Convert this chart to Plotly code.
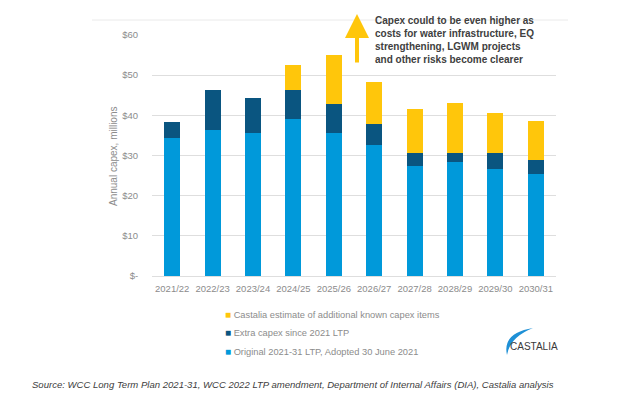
import plotly.graph_objects as go

years = ["2021/22", "2022/23", "2023/24", "2024/25", "2025/26",
         "2026/27", "2027/28", "2028/29", "2029/30", "2030/31"]
original = [34.3, 36.3, 35.5, 39.2, 35.7, 32.6, 27.3, 28.4, 26.6, 25.5]
extra = [4.0, 9.9, 8.7, 7.0, 7.2, 5.3, 3.2, 2.2, 4.0, 3.4]
castalia = [0, 0, 0, 6.3, 12.2, 10.4, 11.2, 12.5, 9.9, 9.8]

series_names = ["Original 2021-31 LTP, Adopted 30 June 2021",
                "Extra capex since 2021 LTP",
                "Castalia estimate of additional known capex items"]

y_ticks = [0, 10, 20, 30, 40, 50, 60]
y_ticktext = ["$-", "$10", "$20", "$30", "$40", "$50", "$60"]

C_LIGHT = "#0099DA"
C_DARK = "#0A5580"
C_YELLOW = "#FFC60B"
GREY = "#8C8C8C"
colors = [C_LIGHT, C_DARK, C_YELLOW]

W, H = 627, 401
L, R, T, B = 152, 71, 35, 125
PW, PH = W - L - R, H - T - B


def px(x):
    return (x - L) / PW


def py(y):
    return (H - B - y) / PH


fig = go.Figure()
for vals, name, col in zip([original, extra, castalia], series_names, colors):
    fig.add_bar(x=years, y=vals, name=name, marker_color=col,
                marker_line_width=0, hoverinfo="skip", showlegend=False)

fig.update_layout(
    width=W, height=H,
    margin=dict(l=L, r=R, t=T, b=B, pad=0),
    barmode="stack", bargap=0.6,
    plot_bgcolor="white", paper_bgcolor="white",
    font=dict(family="Liberation Sans, Arial, sans-serif", color=GREY, size=9),
    showlegend=False,
    xaxis=dict(
        showgrid=False, showline=False, ticks="outside", ticklen=4,
        tickcolor="white", tickfont=dict(size=9.5, color=GREY),
    ),
    yaxis=dict(
        range=[0, 60], tickvals=y_ticks, ticktext=y_ticktext,
        showgrid=True, gridcolor="#DEDEDE", gridwidth=1,
        zeroline=True, zerolinecolor="#DEDEDE", zerolinewidth=1,
        showline=False, ticks="outside", ticklen=11, tickcolor="white",
        tickfont=dict(size=9.5, color=GREY),
    ),
)

# legend (top to bottom: yellow, dark, light)
leg_y = [314, 332.7, 351.7]
for i, (name, col) in enumerate(zip(series_names[::-1], colors[::-1])):
    fig.add_annotation(
        xref="paper", yref="paper", x=px(223), y=py(leg_y[i]),
        xanchor="left", yanchor="middle", showarrow=False,
        text=f'<span style="color:{col}; font-size:10px">■</span> {name}',
        font=dict(size=9.3, color=GREY),
    )

# y axis title
fig.add_annotation(
    text="Annual capex, millions", xref="paper", yref="paper",
    x=px(113), y=py(156), xanchor="center", yanchor="middle",
    textangle=-90, showarrow=False,
    font=dict(size=10, color=GREY),
)

# faint top line
fig.add_shape(type="line", xref="paper", yref="paper",
              x0=px(92), x1=px(568), y0=py(20), y1=py(20),
              line=dict(color="#EAEAEA", width=1))

# arrow
fig.add_annotation(
    xref="paper", yref="paper", x=px(357), y=py(14),
    ax=0, ay=50, text="", showarrow=True,
    arrowhead=2, arrowsize=1.2, arrowwidth=4, arrowcolor=C_YELLOW,
)

# callout text
fig.add_annotation(
    xref="paper", yref="paper", x=px(373), y=py(13),
    xanchor="left", yanchor="top", align="left", showarrow=False,
    text=("<b>Capex could to be even higher as<br>costs for water infrastructure, EQ<br>"
          "strengthening, LGWM projects<br>and other risks become clearer</b>"),
    font=dict(size=10, color="#404040"),
)

# Castalia logo
fig.add_shape(
    type="path", xref="paper", yref="paper",
    path=(f"M {px(533)},{py(328)} "
          f"Q {px(502)},{py(333)} {px(507)},{py(355)} "
          f"Q {px(510)},{py(337)} {px(533)},{py(328)} Z"),
    fillcolor="#1E90D6", line=dict(width=0),
)
fig.add_annotation(
    xref="paper", yref="paper", x=px(534), y=py(346),
    xanchor="center", yanchor="middle",
    text="CASTALIA", showarrow=False,
    font=dict(size=10, color="#3A3A3A", family="Liberation Sans, Arial, sans-serif"),
)

# source
fig.add_annotation(
    xref="paper", yref="paper", x=px(30), y=py(384),
    xanchor="left", yanchor="middle", showarrow=False,
    text=("<i>Source: WCC Long Term Plan 2021-31, WCC 2022 LTP amendment, "
          "Department of Internal Affairs (DIA), Castalia analysis</i>"),
    font=dict(size=9.55, color="#404040"),
)

fig.write_html("out.html")
